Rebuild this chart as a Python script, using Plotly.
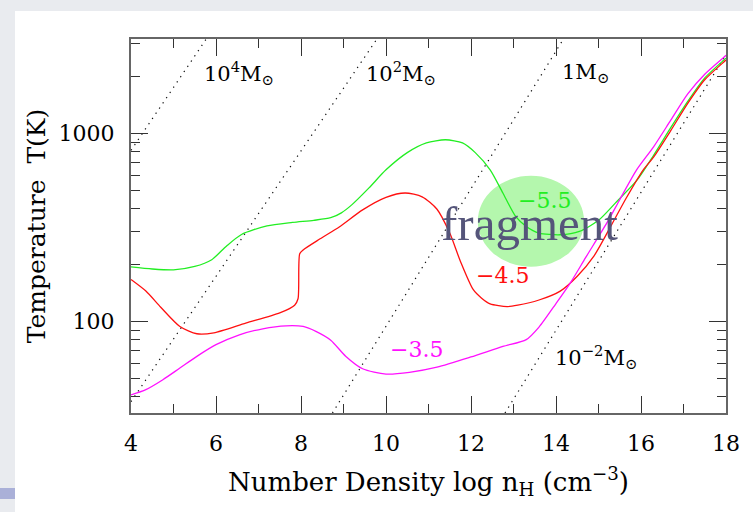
import plotly.graph_objects as go

# ---------------- data (log n_H, temperature in K) ----------------
logn_green = [4.0, 4.5, 5.0, 5.5, 5.9, 6.25, 6.6, 7.2, 7.8, 8.3, 8.7, 8.95, 9.2, 9.6, 10.0,
              10.5, 10.95, 11.4, 11.8, 12.1, 12.45, 12.75, 13.05, 13.3, 13.6, 14.1, 14.55,
              15.0, 15.4, 15.9, 16.3, 16.7, 17.1, 17.5, 17.95, 18.0]
T_green = [195, 190, 188, 196, 213, 252, 290, 322, 336, 345, 356, 378, 418, 513, 640,
           790, 890, 925, 890, 790, 640, 482, 362, 320, 295, 289, 301,
           345, 427, 562, 767, 1072, 1479, 1972, 2455, 2512]

logn_red = [4.0, 4.35, 4.7, 5.15, 5.55, 5.95, 6.7, 7.5, 7.85, 7.93, 7.97, 8.05, 8.45, 8.9,
            9.45, 10.0, 10.45, 10.85, 11.2, 11.5, 11.75, 12.05, 12.25, 12.45, 12.85, 13.1,
            13.6, 14.1, 14.5, 14.9, 15.3, 15.65, 16.05, 16.3, 16.7, 17.1, 17.5, 17.95, 18.0]
T_red = [167, 145, 119, 94, 86, 87, 98, 111, 122, 132, 229, 240, 275, 318,
         392, 457, 482, 460, 395, 295, 209, 148, 133, 124, 120, 122,
         130, 145, 174, 224, 324, 452, 638, 750, 1035, 1445, 1928, 2399, 2455]

logn_mag = [4.0, 4.35, 4.75, 5.15, 5.55, 6.0, 6.55, 7.1, 7.65, 8.05, 8.35, 8.7, 9.05, 9.45,
            10.0, 10.55, 11.2, 12.0, 12.75, 13.3, 13.6, 14.0, 14.35, 14.7, 15.2, 15.5, 15.9,
            16.3, 16.7, 17.1, 17.5, 17.95, 18.0]
T_mag = [40.7, 43.4, 49, 56.5, 65.2, 75.2, 84.9, 91.4, 94.8, 94, 88.5, 79.4, 65.3, 56,
         52.5, 53.6, 57.1, 64.7, 73.6, 80, 93.3, 124.5, 162, 219, 335, 444, 641,
         851, 1175, 1622, 2065, 2541, 2600]

curve_labels = ["\u22125.5", "\u22124.5", "\u22123.5"]
curve_label_logn = [13.74, 12.74, 10.71]
curve_label_logT = [2.642, 2.243, 1.85]

# Jeans-mass reference lines (start / end in log n, log T)
jeans_names = ["10<sup>4</sup>M<sub>\u2299</sub>", "10<sup>2</sup>M<sub>\u2299</sub>",
               "1M<sub>\u2299</sub>", "10<sup>\u22122</sup>M<sub>\u2299</sub>"]
jeans_logn_start = [4.0, 4.0, 8.74, 12.8]
jeans_logT_start = [2.91, 1.573, 1.513, 1.513]
jeans_logn_end = [5.77, 9.78, 14.17, 18.0]
jeans_logT_end = [3.502, 3.5, 3.5, 3.42]
jeans_label_logn = [5.66, 9.475, 14.09, 13.925]
jeans_label_logT = [3.323, 3.323, 3.323, 1.812]

# "fragment" region (log n, log T extent)
blob_logn = [12.16, 14.66]
blob_logT = [2.291, 2.775]

x_ticks = [4, 6, 8, 10, 12, 14, 16, 18]
x_minor = [5, 7, 9, 11, 13, 15, 17]
y_ticks = [100, 1000]
y_minor = [40, 50, 60, 70, 80, 90, 200, 300, 400, 500, 600, 700, 800, 900, 2000, 3000]

# ---------------- figure ----------------
W, H = 753, 512
ML, MR, MT, MB = 131, 27, 39, 99
FONT = "DejaVu Serif"
Y_RANGE = [1.513, 3.502]

fig = go.Figure()

for x0, y0, x1, y1 in zip(jeans_logn_start, jeans_logT_start, jeans_logn_end, jeans_logT_end):
    fig.add_trace(go.Scatter(x=[x0, x1], y=[10 ** y0, 10 ** y1], mode="lines",
                             line=dict(color="#111111", width=1.2, dash="1.3px,5px"),
                             hoverinfo="skip", showlegend=False))

colors = ["#22ee22", "#ff1010", "#ff10ff"]
for xs, ys, c in zip([logn_green, logn_red, logn_mag], [T_green, T_red, T_mag], colors):
    fig.add_trace(go.Scatter(x=xs, y=ys, mode="lines",
                             line=dict(color=c, width=1.3, shape="spline", smoothing=0.7),
                             showlegend=False))

annotations = []
for t, x, y in zip(jeans_names, jeans_label_logn, jeans_label_logT):
    annotations.append(dict(x=x, y=y, xref="x", yref="y", text=t, showarrow=False,
                            xanchor="left", yanchor="middle",
                            font=dict(family=FONT, size=21, color="black")))
for t, x, y, c in zip(curve_labels, curve_label_logn, curve_label_logT, colors):
    annotations.append(dict(x=x, y=y, xref="x", yref="y", text=t, showarrow=False,
                            xanchor="center", yanchor="middle",
                            font=dict(family=FONT, size=22, color=c)))
annotations.append(dict(x=13.385, y=2.52, xref="x", yref="y", text="fragment", showarrow=False,
                        xanchor="center", yanchor="middle",
                        font=dict(family="Liberation Serif", size=49, color="#55557a")))

pw = W - ML - MR
ph = H - MT - MB
def px_x(p):
    return (p - ML) / pw
def px_y(p):
    return (H - MB - p) / ph
def logT_to_paper(v):
    return (v - Y_RANGE[0]) / (Y_RANGE[1] - Y_RANGE[0])

shapes = [
    # white slide panel on the grey background
    dict(type="rect", xref="paper", yref="paper", x0=px_x(15), x1=px_x(760),
         y0=px_y(520), y1=px_y(11), fillcolor="white", line=dict(width=0), layer="below"),
    dict(type="rect", xref="paper", yref="paper", x0=px_x(0), x1=px_x(15),
         y0=px_y(499), y1=px_y(488), fillcolor="#aab0d8", line=dict(width=0), layer="below"),
    # green "fragment" blob
    dict(type="circle", xref="x", yref="paper", x0=blob_logn[0], x1=blob_logn[1],
         y0=logT_to_paper(blob_logT[0]), y1=logT_to_paper(blob_logT[1]),
         fillcolor="#b4f7ad", line=dict(width=0), layer="below"),
]

axis_common = dict(showline=True, linecolor="#666666", linewidth=2, mirror="allticks",
                   ticks="inside", ticklen=17, tickwidth=1.3, tickcolor="#333333",
                   showgrid=False, zeroline=False,
                   tickfont=dict(family=FONT, size=22, color="black"))

fig.update_layout(
    width=W, height=H,
    margin=dict(l=ML, r=MR, t=MT, b=MB),
    paper_bgcolor="#e9ebef", plot_bgcolor="white",
    shapes=shapes, annotations=annotations,
    xaxis=dict(range=[4, 18], tickmode="array", tickvals=x_ticks, ticktext=[str(v) for v in x_ticks],
               ticklabelstandoff=10,
               minor=dict(tickmode="array", tickvals=x_minor, ticks="inside", ticklen=9,
                          tickwidth=1.3, tickcolor="#333333"),
               title=dict(text="Number Density log n<sub>H</sub> (cm<sup>\u22123</sup>)",
                          font=dict(family=FONT, size=26, color="black"), standoff=17),
               **axis_common),
    yaxis=dict(type="log", range=Y_RANGE, tickmode="array", tickvals=y_ticks,
               ticktext=[str(v) for v in y_ticks], ticklabelstandoff=10,
               minor=dict(tickmode="array", tickvals=y_minor, ticks="inside", ticklen=9,
                          tickwidth=1.3, tickcolor="#333333"),
               title=dict(text="Temperature  T(K)",
                          font=dict(family=FONT, size=25, color="black"), standoff=6),
               **axis_common),
)

fig.write_html("out.html")
